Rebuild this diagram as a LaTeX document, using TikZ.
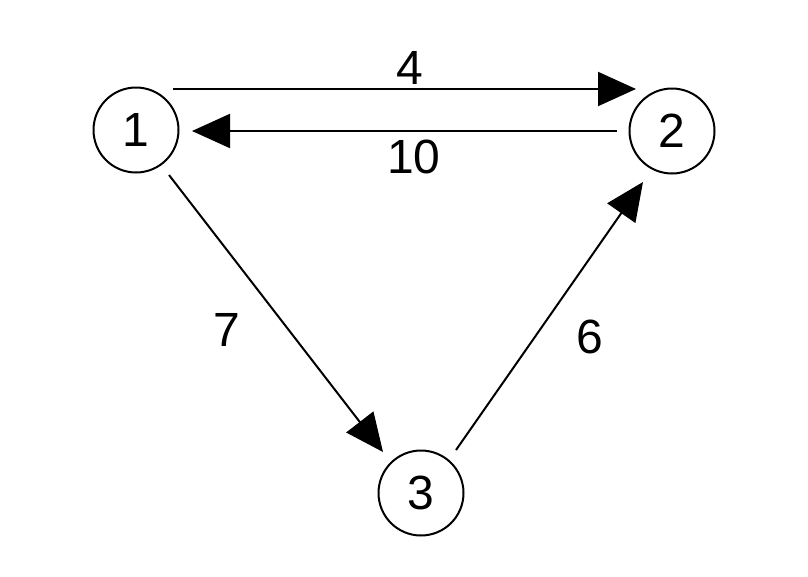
\documentclass[tikz,border=0pt]{standalone}
\usepackage{fontspec}
\setmainfont{Liberation Sans}
\usetikzlibrary{arrows.meta}
\begin{document}
\begin{tikzpicture}[x=1pt,y=-1pt,
  vert/.style={circle,draw,line width=2pt,minimum size=85pt,inner sep=0pt,font=\fontsize{48}{48}\selectfont},
  lbl/.style={font=\fontsize{48}{48}\selectfont,inner sep=0pt},
  arr/.style={line width=2pt,-{Triangle[length=38pt,width=34pt]}}]
\useasboundingbox (0,0) rectangle (808,576);
\node[vert] (n1) at (136,130) {1};
\node[vert] (n2) at (672,131) {2};
\node[vert] (n3) at (421,493) {3};
\draw[arr] ([xshift=37pt,yshift=41pt]n1.center) -- ([xshift=-36pt,yshift=42pt]n2.center);
\draw[arr] ([xshift=-55pt]n2.center) -- ([xshift=56pt,yshift=-1pt]n1.center);
\draw[arr] ([xshift=33pt,yshift=-45pt]n1.center) -- ([xshift=-38pt,yshift=41pt]n3.center);
\draw[arr] ([xshift=35pt,yshift=43pt]n3.center) -- ([xshift=-29pt,yshift=-51pt]n2.center);
\node[lbl] (l4) at (410,68) {4};
\node[lbl] (l10) at (414,157) {10};
\node[lbl] (l7) at (227,330) {7};
\node[lbl] (l6) at (590,337) {6};
\end{tikzpicture}
\end{document}
